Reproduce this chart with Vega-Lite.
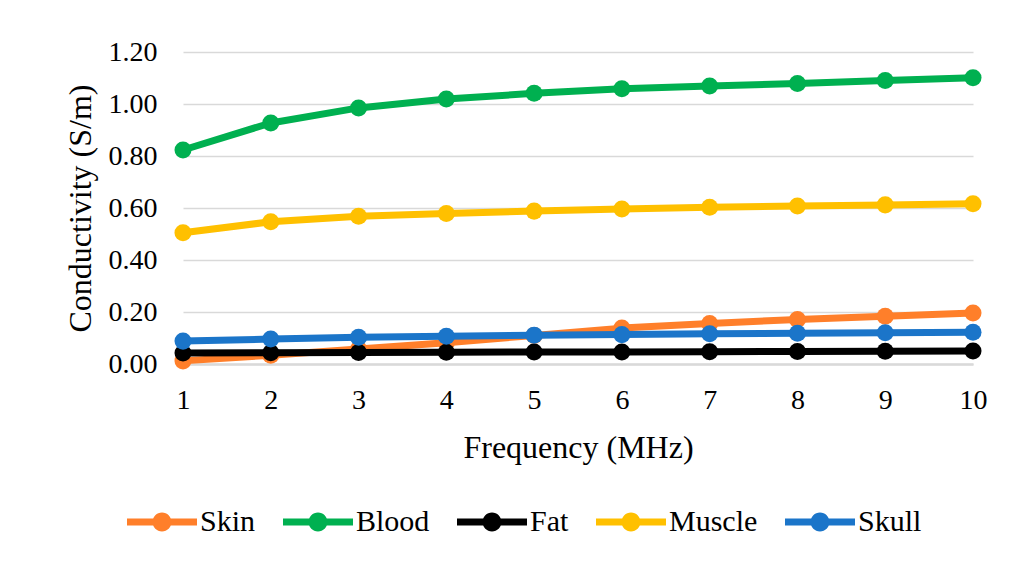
{
  "$schema": "https://vega.github.io/schema/vega-lite/v6.json",
  "width": 790,
  "height": 312,
  "autosize": {"type": "none"},
  "padding": {"left": 183, "top": 52, "right": 54, "bottom": 206},
  "background": "white",
  "config": {
    "view": {"stroke": null},
    "font": "Liberation Serif",
    "axis": {"labelFont": "Liberation Serif", "titleFont": "Liberation Serif", "labelColor": "#000000", "titleColor": "#000000", "titleFontWeight": "normal"},
    "legend": {"labelFont": "Liberation Serif"}
  },
  "data": {
    "values": [
      {"f": 1, "t": "Skin", "s": 0.012}, {"f": 2, "t": "Skin", "s": 0.034}, {"f": 3, "t": "Skin", "s": 0.058}, {"f": 4, "t": "Skin", "s": 0.082}, {"f": 5, "t": "Skin", "s": 0.110},
      {"f": 6, "t": "Skin", "s": 0.138}, {"f": 7, "t": "Skin", "s": 0.156}, {"f": 8, "t": "Skin", "s": 0.171}, {"f": 9, "t": "Skin", "s": 0.184}, {"f": 10, "t": "Skin", "s": 0.196},
      {"f": 1, "t": "Blood", "s": 0.823}, {"f": 2, "t": "Blood", "s": 0.927}, {"f": 3, "t": "Blood", "s": 0.985}, {"f": 4, "t": "Blood", "s": 1.019}, {"f": 5, "t": "Blood", "s": 1.041},
      {"f": 6, "t": "Blood", "s": 1.059}, {"f": 7, "t": "Blood", "s": 1.069}, {"f": 8, "t": "Blood", "s": 1.079}, {"f": 9, "t": "Blood", "s": 1.090}, {"f": 10, "t": "Blood", "s": 1.101},
      {"f": 1, "t": "Fat", "s": 0.042}, {"f": 2, "t": "Fat", "s": 0.043}, {"f": 3, "t": "Fat", "s": 0.044}, {"f": 4, "t": "Fat", "s": 0.045}, {"f": 5, "t": "Fat", "s": 0.046},
      {"f": 6, "t": "Fat", "s": 0.046}, {"f": 7, "t": "Fat", "s": 0.047}, {"f": 8, "t": "Fat", "s": 0.048}, {"f": 9, "t": "Fat", "s": 0.049}, {"f": 10, "t": "Fat", "s": 0.050},
      {"f": 1, "t": "Muscle", "s": 0.505}, {"f": 2, "t": "Muscle", "s": 0.547}, {"f": 3, "t": "Muscle", "s": 0.568}, {"f": 4, "t": "Muscle", "s": 0.579}, {"f": 5, "t": "Muscle", "s": 0.588},
      {"f": 6, "t": "Muscle", "s": 0.596}, {"f": 7, "t": "Muscle", "s": 0.603}, {"f": 8, "t": "Muscle", "s": 0.608}, {"f": 9, "t": "Muscle", "s": 0.612}, {"f": 10, "t": "Muscle", "s": 0.616},
      {"f": 1, "t": "Skull", "s": 0.088}, {"f": 2, "t": "Skull", "s": 0.096}, {"f": 3, "t": "Skull", "s": 0.103}, {"f": 4, "t": "Skull", "s": 0.107}, {"f": 5, "t": "Skull", "s": 0.111},
      {"f": 6, "t": "Skull", "s": 0.113}, {"f": 7, "t": "Skull", "s": 0.116}, {"f": 8, "t": "Skull", "s": 0.118}, {"f": 9, "t": "Skull", "s": 0.120}, {"f": 10, "t": "Skull", "s": 0.122}
    ]
  },
  "encoding": {
    "x": {
      "field": "f", "type": "ordinal", "sort": "ascending",
      "scale": {"type": "point", "padding": 0},
      "title": "Frequency (MHz)",
      "axis": {"labelAngle": 0, "labelFontSize": 28, "labelPadding": 22, "ticks": false, "tickSize": 0, "grid": false,
               "domainColor": "#d9d9d9", "domainWidth": 2.5, "titleFontSize": 32, "titlePadding": 18}
    },
    "y": {
      "field": "s", "type": "quantitative",
      "scale": {"domain": [0, 1.2], "nice": false, "zero": true},
      "title": "Conductivity (S/m)",
      "axis": {"values": [0, 0.2, 0.4, 0.6, 0.8, 1.0, 1.2], "format": ".2f", "labelFontSize": 28, "labelPadding": 26,
               "ticks": false, "tickSize": 0, "domain": false, "grid": true, "gridColor": "#d9d9d9", "gridWidth": 1.5,
               "titleFontSize": 32, "titlePadding": 11}
    },
    "color": {
      "field": "t", "type": "nominal",
      "scale": {"domain": ["Skin", "Blood", "Fat", "Muscle", "Skull"], "range": ["#FF7F2A", "#00B050", "#000000", "#FFC000", "#1B75C9"]},
      "legend": {
        "title": null, "orient": "none", "legendX": -56, "legendY": 435, "direction": "horizontal",
        "symbolType": "M-1,-0.1L1,-0.1L1,0.1L-1,0.1Z M0.27,0 A0.27,0.27 0 1,1 -0.27,0 A0.27,0.27 0 1,1 0.27,0 Z",
        "symbolSize": 4900, "symbolStrokeWidth": 0, "labelFont": "Liberation Serif", "labelFontSize": 30, "labelColor": "#000000",
        "labelOffset": 3, "columnPadding": 27, "padding": 0, "rowPadding": 0, "labelLimit": 300,
        "encode": {"symbols": {"update": {"fill": {"scale": "color", "field": "value"}, "stroke": {"value": "transparent"}, "strokeWidth": {"value": 0}, "opacity": {"value": 1}}}}
      }
    }
  },
  "layer": [
    {"transform": [{"filter": "datum.t === 'Skin'"}], "mark": {"type": "line", "strokeWidth": 7, "strokeJoin": "round", "strokeCap": "round", "point": {"filled": true, "size": 290, "opacity": 1}}},
    {"transform": [{"filter": "datum.t === 'Blood'"}], "mark": {"type": "line", "strokeWidth": 7, "strokeJoin": "round", "strokeCap": "round", "point": {"filled": true, "size": 290, "opacity": 1}}},
    {"transform": [{"filter": "datum.t === 'Fat'"}], "mark": {"type": "line", "strokeWidth": 7, "strokeJoin": "round", "strokeCap": "round", "point": {"filled": true, "size": 290, "opacity": 1}}},
    {"transform": [{"filter": "datum.t === 'Muscle'"}], "mark": {"type": "line", "strokeWidth": 7, "strokeJoin": "round", "strokeCap": "round", "point": {"filled": true, "size": 290, "opacity": 1}}},
    {"transform": [{"filter": "datum.t === 'Skull'"}], "mark": {"type": "line", "strokeWidth": 7, "strokeJoin": "round", "strokeCap": "round", "point": {"filled": true, "size": 290, "opacity": 1}}}
  ]
}
